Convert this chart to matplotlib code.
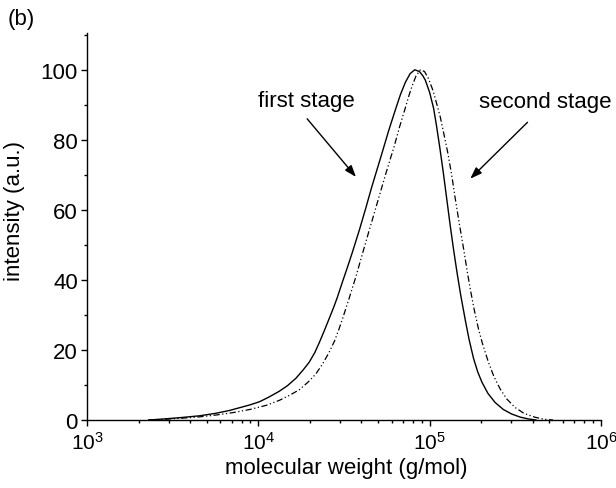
import matplotlib
matplotlib.use("Agg")
import numpy as np
import matplotlib.pyplot as plt
from matplotlib.ticker import FixedLocator, NullFormatter, LogLocator

plt.rcParams['font.family'] = ['Liberation Sans', 'DejaVu Sans']
plt.rcParams['mathtext.fontset'] = 'custom'
plt.rcParams['mathtext.rm'] = 'Liberation Sans'
plt.rcParams['mathtext.it'] = 'Liberation Sans:italic'
plt.rcParams['mathtext.bf'] = 'Liberation Sans:bold'

# ---- data (log10 of molecular weight in g/mol, intensity in a.u.) ----
first_logmw = [3.36, 3.45, 3.55, 3.657, 3.75, 3.83, 3.89, 3.95, 4.006, 4.06,
               4.122, 4.17, 4.219, 4.26, 4.297, 4.33, 4.355, 4.385, 4.413,
               4.44, 4.461, 4.49, 4.52, 4.549, 4.59, 4.626, 4.66, 4.694,
               4.723, 4.76, 4.80, 4.83, 4.859, 4.886, 4.913, 4.94, 4.96,
               4.975, 5.0, 5.023, 5.04, 5.06, 5.08, 5.10, 5.12, 5.14, 5.16,
               5.18, 5.208, 5.23, 5.256, 5.28, 5.305, 5.34, 5.382, 5.43,
               5.479, 5.53, 5.576, 5.62]
first_int = [0.0, 0.3, 0.7, 1.2, 1.9, 2.7, 3.5, 4.3, 5.2, 6.5,
             8.2, 9.8, 11.9, 14.2, 16.5, 19.3, 22.0, 25.5, 28.9,
             32.2, 35.0, 39.3, 43.6, 47.9, 54.3, 60.3, 66.2, 71.7,
             76.4, 82.5, 88.6, 93.0, 96.5, 98.9, 100.0, 99.5, 98.3,
             97.0, 93.5, 89.0, 84.0, 77.5, 70.5, 63.0, 55.5, 48.5, 42.0,
             36.0, 28.5, 23.0, 17.6, 13.8, 10.8, 7.6, 5.0, 3.0,
             1.7, 0.8, 0.3, 0.0]

second_logmw = [3.36, 3.45, 3.55, 3.657, 3.75, 3.85, 3.95, 4.047, 4.122, 4.18,
                4.238, 4.29, 4.335, 4.375, 4.413, 4.445, 4.471, 4.50, 4.529,
                4.57, 4.606, 4.645, 4.684, 4.715, 4.742, 4.77, 4.791, 4.825,
                4.859, 4.88, 4.897, 4.92, 4.946, 4.97, 4.994, 5.02, 5.04,
                5.062, 5.085, 5.107, 5.13, 5.15, 5.175, 5.198, 5.22, 5.237,
                5.26, 5.285, 5.31, 5.343, 5.375, 5.411, 5.45, 5.498, 5.55,
                5.614, 5.66, 5.692, 5.72]
second_int = [0.0, 0.2, 0.5, 0.9, 1.4, 2.1, 3.0, 4.2, 5.6, 7.0,
              8.6, 10.8, 13.1, 16.0, 19.3, 22.6, 26.0, 30.2, 34.6,
              41.0, 47.2, 53.8, 60.3, 65.5, 70.0, 74.5, 77.8, 83.8,
              89.3, 92.8, 95.3, 98.2, 100.0, 99.5, 97.4, 94.0, 90.5,
              86.5, 81.2, 76.0, 69.5, 63.0, 55.5, 48.9, 42.2, 37.4,
              31.5, 26.0, 21.5, 16.5, 12.4, 8.9, 6.0, 3.6, 1.9,
              0.8, 0.3, 0.1, 0.0]

x_ticks = [1e3, 1e4, 1e5, 1e6]
x_tick_labels = [r'$10^{3}$', r'$10^{4}$', r'$10^{5}$', r'$10^{6}$']
y_ticks = [0, 20, 40, 60, 80, 100]
y_minor = [10, 30, 50, 70, 90, 110]

# ---- figure ----
W, H = 616, 489
fig = plt.figure(figsize=(W / 100, H / 100), dpi=100)
x0, x1, y0, y1 = 87, 601, 421, 34
ax = fig.add_axes([x0 / W, (H - y0) / H, (x1 - x0) / W, (y0 - y1) / H])

ax.plot(np.power(10.0, first_logmw), first_int, color='black', lw=1.0)
ax.plot(np.power(10.0, second_logmw), second_int, color='black', lw=0.9,
        linestyle=(0, (5, 2, 1, 2, 1, 2)))

ax.set_xscale('log')
ax.set_xlim(1e3, 1e6)
ax.set_ylim(0, 110.5)

ax.spines['top'].set_visible(False)
ax.spines['right'].set_visible(False)
for s in ('left', 'bottom'):
    ax.spines[s].set_linewidth(1.0)

ax.set_xticks(x_ticks)
ax.set_xticklabels(x_tick_labels)
ax.xaxis.set_minor_locator(LogLocator(base=10, subs=range(2, 10)))
ax.xaxis.set_minor_formatter(NullFormatter())
ax.set_yticks(y_ticks)
ax.yaxis.set_minor_locator(FixedLocator(y_minor))

ax.tick_params(which='major', direction='out', length=4.5, width=1.0)
ax.tick_params(axis='x', which='major', pad=3.5, labelsize=15)
ax.tick_params(axis='y', which='major', pad=2, labelsize=16)
ax.tick_params(which='minor', direction='out', length=2.3, width=1.0)

ax.set_xlabel('molecular weight (g/mol)', fontsize=16, va='center')
ax.xaxis.set_label_coords((346 - x0) / (x1 - x0), (y0 - 469) / (y0 - y1))
ax.set_ylabel('intensity (a.u.)', fontsize=16, va='center')
ax.yaxis.set_label_coords((15 - x0) / (x1 - x0), (y0 - 211) / (y0 - y1))

# annotations
arrow_kw = dict(arrowstyle='-|>,head_length=0.7,head_width=0.25',
                color='black', lw=1.0, shrinkA=0, shrinkB=0)
ax.text(10 ** 4.282, 91.1, 'first stage', fontsize=16, ha='center', va='center')
ax.annotate('', xy=(10 ** 4.570, 69.4), xytext=(10 ** 4.285, 86.0),
            arrowprops=arrow_kw)
ax.text(10 ** 5.674, 90.9, 'second stage', fontsize=16, ha='center',
        va='center', clip_on=False)
ax.annotate('', xy=(10 ** 5.237, 68.9), xytext=(10 ** 5.571, 85.0),
            arrowprops=arrow_kw)

fig.text(8 / W, 1 - 20 / H, '(b)', fontsize=16, ha='left', va='center')

fig.savefig('out.png', dpi=100)
